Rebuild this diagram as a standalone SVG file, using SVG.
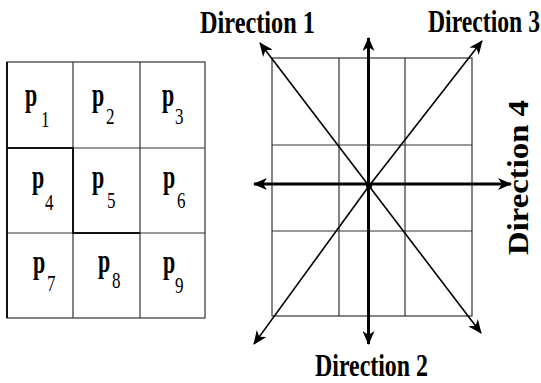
<svg xmlns="http://www.w3.org/2000/svg" width="541" height="383" viewBox="0 0 541 383">
<style>
.g{fill:none;stroke:#333;stroke-width:1.2}
.gk{fill:none;stroke:#111;stroke-width:2}
.ax{fill:none;stroke:#000;stroke-width:3}
.dg{fill:none;stroke:#000;stroke-width:1.6}
.p{font-family:"Liberation Serif",serif;font-weight:bold;font-size:22px;fill:#000}
.s{font-family:"Liberation Serif",serif;font-size:17px;fill:#000}
.d{font-family:"Liberation Serif",serif;font-weight:bold;font-size:24px;fill:#000}
</style>
<defs>
<marker id="ah" markerUnits="userSpaceOnUse" markerWidth="14" markerHeight="12" viewBox="0 0 14 12" refX="13" refY="6" orient="auto">
<path d="M0,0 L14,6 L0,12 L4,6 z" fill="#000"/>
</marker>
</defs>
<rect width="541" height="383" fill="#fff"/>
<g id="grid-left">
<rect class="g" x="7" y="62" width="198" height="256"/>
<line class="g" x1="73" y1="62" x2="73" y2="318"/>
<line class="g" x1="140" y1="62" x2="140" y2="318"/>
<line class="g" x1="7" y1="148" x2="205" y2="148"/>
<line class="g" x1="7" y1="233" x2="205" y2="233"/>
<line class="gk" x1="7" y1="62" x2="7" y2="318"/>
<polyline class="gk" points="7,148 73,148 73,233 140,233"/>
</g>
<g id="labels-left">
<text class="p" transform="translate(25,106) scale(1,1.5)">p</text><text class="s" transform="translate(41,127) scale(1,1.4)">1</text>
<text class="p" transform="translate(92,106) scale(1,1.5)">p</text><text class="s" transform="translate(106,124) scale(1,1.4)">2</text>
<text class="p" transform="translate(162,106) scale(1,1.5)">p</text><text class="s" transform="translate(175,124) scale(1,1.4)">3</text>
<text class="p" transform="translate(32,188) scale(1,1.5)">p</text><text class="s" transform="translate(45,210) scale(1,1.4)">4</text>
<text class="p" transform="translate(92,188) scale(1,1.5)">p</text><text class="s" transform="translate(107,208) scale(1,1.4)">5</text>
<text class="p" transform="translate(163,188) scale(1,1.5)">p</text><text class="s" transform="translate(177,208) scale(1,1.4)">6</text>
<text class="p" transform="translate(33,273) scale(1,1.5)">p</text><text class="s" transform="translate(47,291) scale(1,1.4)">7</text>
<text class="p" transform="translate(98,272) scale(1,1.5)">p</text><text class="s" transform="translate(112,288) scale(1,1.4)">8</text>
<text class="p" transform="translate(163,273) scale(1,1.5)">p</text><text class="s" transform="translate(175,293) scale(1,1.4)">9</text>
</g>
<g id="grid-right">
<rect class="g" x="272" y="58" width="200" height="258"/>
<line class="g" x1="339" y1="58" x2="339" y2="316"/>
<line class="g" x1="405" y1="58" x2="405" y2="316"/>
<line class="g" x1="272" y1="145" x2="472" y2="145"/>
<line class="g" x1="272" y1="231" x2="472" y2="231"/>
</g>
<g id="connectors">
<line class="ax" x1="368.5" y1="186" x2="368.5" y2="38" marker-end="url(#ah)"/>
<line class="ax" x1="368.5" y1="186" x2="368.5" y2="344" marker-end="url(#ah)"/>
<line class="ax" x1="369" y1="184" x2="254" y2="184" marker-end="url(#ah)"/>
<line class="ax" x1="369" y1="184" x2="511" y2="184" marker-end="url(#ah)"/>
<line class="dg" x1="369" y1="186" x2="260" y2="43" marker-end="url(#ah)"/>
<line class="dg" x1="369" y1="186" x2="482" y2="41" marker-end="url(#ah)"/>
<line class="dg" x1="369" y1="186" x2="254" y2="344" marker-end="url(#ah)"/>
<line class="dg" x1="369" y1="186" x2="481" y2="333" marker-end="url(#ah)"/>
<circle cx="369" cy="186" r="3" fill="#000"/>
</g>
<g id="direction-labels">
<text class="d" transform="translate(200,33) scale(1,1.3)" textLength="115" lengthAdjust="spacingAndGlyphs">Direction 1</text>
<text class="d" transform="translate(428,32) scale(1,1.3)" textLength="112" lengthAdjust="spacingAndGlyphs">Direction 3</text>
<text class="d" transform="translate(315,376) scale(1,1.3)" textLength="113" lengthAdjust="spacingAndGlyphs">Direction 2</text>
<text class="d" transform="translate(528,255) rotate(-90)" style="font-size:29px" textLength="155" lengthAdjust="spacingAndGlyphs">Direction 4</text>
</g>
</svg>
